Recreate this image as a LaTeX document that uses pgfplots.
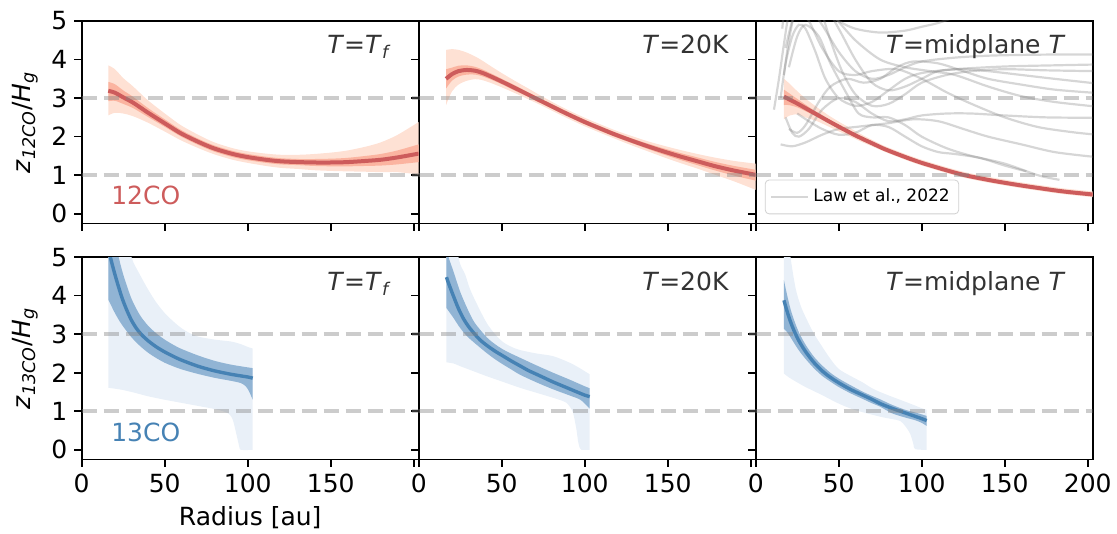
\documentclass[border=0pt]{standalone}
\usepackage{fontspec}
\setmainfont{DejaVu Sans}
\usepackage{pgfplots}
\pgfplotsset{compat=1.18}
\usepgfplotslibrary{groupplots,fillbetween}
\definecolor{redline}{RGB}{205,92,92}
\definecolor{redin}{RGB}{251,180,160}
\definecolor{redout}{RGB}{254,225,212}
\definecolor{blueline}{RGB}{70,130,180}
\definecolor{bluein}{RGB}{145,180,212}
\definecolor{blueout}{RGB}{233,240,248}
\definecolor{txt}{RGB}{51,51,51}
\newcommand\fs{\fontsize{12.5}{15}\selectfont}
\pgfplotsset{
  hline/.style={draw=gray, opacity=0.4, line width=2pt, dash pattern=on 7.6pt off 3.4pt, forget plot},
  edge/.style={draw=none, smooth, forget plot},
  law/.style={draw=gray, opacity=0.32, line width=1.1pt, smooth},
}
\begin{document}
\begin{tikzpicture}
\begin{groupplot}[
  group style={group size=3 by 2, horizontal sep=0pt, vertical sep=16.85pt},
  scale only axis, width=168.5pt, height=101.2pt,
  xmin=0, xmax=203, ymin=-0.25, ymax=5,
  xtick={0,50,100,150,200}, ytick={0,1,2,3,4,5},
  tick align=outside, tick pos=left,
  major tick length=3.65pt,
  every tick/.style={black, line width=0.83pt},
  axis line style={line width=0.83pt},
  /pgf/number format/assume math mode=true,
  tick label style={font=\fs},
  label style={font=\fs},
]
%% ---------------- 12CO, T=T_f
\nextgroupplot[xticklabels={}, ylabel={\textit{z}\textsubscript{\textit{12CO}}/\textit{H}\textsubscript{\textit{g}}}]
\coordinate (TL) at (rel axis cs:0,1);
\addplot[edge, name path=ou1] coordinates {(16,3.85)(20,3.75)(25,3.52)(31,3.30)(40,2.94)(51,2.57)(60,2.29)(71,2.03)(80,1.85)(91,1.70)(100,1.62)(111,1.56)(120,1.53)(131,1.53)(140,1.55)(151,1.59)(160,1.64)(171,1.74)(180,1.85)(190,2.04)(203,2.38)};
\addplot[edge, name path=ol1] coordinates {(16,2.55)(20,2.62)(25,2.60)(31,2.53)(40,2.36)(51,2.11)(60,1.90)(71,1.69)(80,1.54)(91,1.40)(100,1.32)(111,1.24)(120,1.19)(131,1.16)(140,1.13)(151,1.11)(160,1.10)(171,1.09)(180,1.08)(190,1.08)(203,1.02)};
\addplot[redout, forget plot] fill between[of=ou1 and ol1];
\addplot[edge, name path=iu1] coordinates {(16,3.42)(20,3.36)(25,3.20)(31,3.03)(40,2.74)(51,2.42)(60,2.17)(71,1.93)(80,1.77)(91,1.63)(100,1.55)(111,1.48)(120,1.44)(131,1.42)(140,1.42)(151,1.43)(160,1.45)(171,1.50)(180,1.55)(190,1.64)(203,1.80)};
\addplot[edge, name path=il1] coordinates {(16,2.92)(20,2.93)(25,2.85)(31,2.74)(40,2.51)(51,2.23)(60,2.00)(71,1.77)(80,1.61)(91,1.47)(100,1.39)(111,1.32)(120,1.28)(131,1.26)(140,1.24)(151,1.23)(160,1.23)(171,1.24)(180,1.25)(190,1.28)(203,1.34)};
\addplot[redin, forget plot] fill between[of=iu1 and il1];
\addplot[redline, line width=2pt, smooth] coordinates {(16,3.19)(20,3.14)(25,3.02)(31,2.88)(40,2.62)(51,2.32)(60,2.08)(71,1.85)(80,1.69)(91,1.55)(100,1.47)(111,1.40)(120,1.36)(131,1.34)(140,1.33)(151,1.33)(160,1.34)(171,1.37)(180,1.40)(190,1.46)(203,1.56)};
\addplot[hline] coordinates {(0,1)(203,1)};
\addplot[hline] coordinates {(0,3)(203,3)};
\node[anchor=base east, font=\fs, text=txt] at (rel axis cs:0.94,0.84) {\textit{T}=\textit{T}\textsubscript{\textit{f}}};
\node[anchor=base west, font=\fs, text=redline] at (rel axis cs:0.067,0.094) {12CO};
%% ---------------- 12CO, T=20K
\nextgroupplot[xticklabels={}, yticklabels={}]
\addplot[edge, name path=ou2] coordinates {(16.5,4.25)(20,4.27)(24,4.25)(29,4.18)(34,4.08)(38,3.98)(43,3.84)(50,3.65)(59,3.42)(66,3.25)(72,3.10)(80,2.91)(88,2.73)(100,2.49)(110,2.31)(118,2.17)(128,2.02)(138,1.88)(148,1.76)(158,1.65)(168,1.55)(178,1.46)(190,1.37)(203,1.30)};
\addplot[edge, name path=ol2] coordinates {(16.5,2.82)(20,3.17)(24,3.35)(29,3.45)(34,3.49)(38,3.47)(43,3.40)(50,3.28)(59,3.11)(66,2.97)(72,2.85)(80,2.68)(88,2.51)(100,2.27)(110,2.09)(118,1.95)(128,1.78)(138,1.62)(148,1.46)(158,1.31)(168,1.17)(178,1.02)(190,0.84)(203,0.62)};
\addplot[redout, forget plot] fill between[of=ou2 and ol2];
\addplot[edge, name path=iu2] coordinates {(16.5,3.75)(20,3.79)(24,3.84)(29,3.85)(34,3.81)(38,3.75)(43,3.65)(50,3.50)(59,3.31)(66,3.15)(72,3.02)(80,2.85)(88,2.68)(100,2.44)(110,2.26)(118,2.12)(128,1.96)(138,1.82)(148,1.69)(158,1.57)(168,1.46)(178,1.35)(190,1.24)(203,1.14)};
\addplot[edge, name path=il2] coordinates {(16.5,3.25)(20,3.45)(24,3.56)(29,3.61)(34,3.61)(38,3.57)(43,3.49)(50,3.36)(59,3.17)(66,3.03)(72,2.90)(80,2.73)(88,2.56)(100,2.32)(110,2.14)(118,2.00)(128,1.84)(138,1.68)(148,1.53)(158,1.39)(168,1.26)(178,1.13)(190,0.99)(203,0.86)};
\addplot[redin, forget plot] fill between[of=iu2 and il2];
\addplot[redline, line width=2pt, smooth] coordinates {(16.5,3.50)(20,3.62)(24,3.70)(29,3.73)(34,3.71)(38,3.66)(43,3.57)(50,3.43)(59,3.24)(66,3.09)(72,2.96)(80,2.79)(88,2.62)(100,2.38)(110,2.20)(118,2.06)(128,1.90)(138,1.75)(148,1.61)(158,1.48)(168,1.36)(178,1.24)(190,1.12)(203,1.01)};
\addplot[hline] coordinates {(0,1)(203,1)};
\addplot[hline] coordinates {(0,3)(203,3)};
\node[anchor=base east, font=\fs, text=txt] at (rel axis cs:0.94,0.84) {\textit{T}=20K};
%% ---------------- 12CO, T=midplane T
\nextgroupplot[xticklabels={}, yticklabels={},
  legend style={at={(0.027,0.045)}, anchor=south west, font=\fontsize{8.5}{10}\selectfont,
    draw=black!18, rounded corners=2pt, fill=white, fill opacity=0.8, text opacity=1,
    inner sep=2.5pt},
  legend image code/.code={\draw[#1] (0cm,0cm) -- (0.65cm,0cm);}]
\addplot[law] coordinates {(11,2.7)(14,3.5)(17,4.4)(20,5.2)(24,5.6)(30,5.5)(40,4.9)(50,4.2)(60,3.7)(70,3.5)(80,3.6)(90,3.8)(100,3.95)(120,4.05)(140,4.1)(160,4.12)(180,4.13)(203,4.13)};
\addlegendentry{Law et al., 2022}
\addplot[law, forget plot] coordinates {(15,3.0)(18,3.9)(22,4.6)(26,4.9)(30,4.8)(36,4.2)(42,3.5)(50,3.0)(60,2.8)(70,2.9)(80,3.2)(90,3.5)(100,3.65)(120,3.75)(150,3.82)(180,3.85)(203,3.87)};
\addplot[law, forget plot] coordinates {(17,3.6)(20,4.5)(24,5.3)(30,5.8)(38,5.4)(45,4.5)(52,3.7)(60,3.1)(70,2.8)(80,2.85)(90,3.1)(100,3.4)(115,3.6)(130,3.7)(150,3.75)(175,3.72)(203,3.70)};
\addplot[law, forget plot] coordinates {(18,4.3)(22,5.0)(28,5.6)(40,5.5)(50,4.8)(60,4.0)(70,3.4)(80,3.2)(90,3.3)(100,3.5)(110,3.7)(125,3.75)(140,3.7)(160,3.6)(180,3.5)(203,3.39)};
\addplot[law, forget plot] coordinates {(20,2.2)(25,2.1)(30,2.3)(38,2.9)(45,3.3)(55,3.5)(65,3.4)(75,3.5)(85,3.8)(95,3.95)(110,3.9)(125,3.7)(140,3.5)(160,3.35)(180,3.22)(203,3.14)};
\addplot[law, forget plot] coordinates {(16,4.8)(19,5.5)(30,5.6)(45,5.2)(60,4.5)(75,4.0)(90,3.8)(105,3.7)(120,3.6)(140,3.3)(160,3.05)(180,2.9)(203,2.79)};
\addplot[law, forget plot] coordinates {(18,2.5)(22,2.1)(26,2.0)(32,2.2)(40,2.7)(50,3.0)(60,2.9)(70,2.6)(80,2.4)(90,2.45)(100,2.55)(115,2.6)(130,2.6)(150,2.55)(175,2.5)(203,2.49)};
\addplot[law, forget plot] coordinates {(25,5.3)(32,5.0)(40,4.3)(50,3.7)(60,3.6)(70,3.7)(85,3.75)(100,3.5)(115,3.15)(130,2.85)(150,2.5)(170,2.25)(190,2.12)(203,2.06)};
\addplot[law, forget plot] coordinates {(15,1.8)(22,1.75)(30,1.85)(40,2.05)(50,2.2)(60,2.25)(70,2.3)(80,2.35)(95,2.45)(110,2.4)(125,2.2)(140,2.0)(160,1.8)(180,1.6)(203,1.48)};
\addplot[law, forget plot] coordinates {(20,3.8)(25,4.6)(30,4.9)(38,4.6)(45,3.9)(55,3.1)(62,2.6)(70,2.5)(80,2.5)(90,2.3)(100,2.0)(115,1.7)(130,1.5)(150,1.3)(170,1.0)(183,0.88)};
\addplot[law, forget plot] coordinates {(25,2.6)(32,2.4)(40,2.2)(50,2.05)(60,2.1)(70,2.3)(80,2.25)(90,2.0)(100,1.75)(110,1.6)(120,1.55)(135,1.45)(150,1.25)(163,1.1)};
\addplot[law, forget plot] coordinates {(40,5.3)(50,5.0)(60,4.8)(75,4.7)(90,4.75)(100,4.85)(110,4.95)(120,5.1)};
\addplot[edge, name path=ou3] coordinates {(17,3.50)(20,3.39)(25,3.18)(30,2.99)(37,2.76)(44,2.55)(50,2.39)(57,2.22)(64,2.05)(70,1.92)(77,1.77)(84,1.65)(92,1.52)(100,1.40)(110,1.27)(118,1.17)(126,1.08)(135,1.00)(145,0.92)(159,0.82)(170,0.75)(185,0.66)(203,0.58)};
\addplot[edge, name path=ol3] coordinates {(17,2.45)(20,2.54)(25,2.58)(30,2.50)(37,2.40)(44,2.26)(50,2.14)(57,2.00)(64,1.86)(70,1.75)(77,1.62)(84,1.50)(92,1.37)(100,1.25)(110,1.12)(118,1.02)(126,0.93)(135,0.85)(145,0.77)(159,0.67)(170,0.60)(185,0.51)(203,0.43)};
\addplot[redout, forget plot] fill between[of=ou3 and ol3];
\addplot[edge, name path=iu3] coordinates {(17,3.22)(20,3.13)(25,2.98)(30,2.83)(37,2.63)(44,2.45)(50,2.30)(57,2.14)(64,1.99)(70,1.87)(77,1.73)(84,1.61)(92,1.48)(100,1.36)(110,1.23)(118,1.13)(126,1.04)(135,0.96)(145,0.88)(159,0.78)(170,0.71)(185,0.62)(203,0.54)};
\addplot[edge, name path=il3] coordinates {(17,2.82)(20,2.82)(25,2.76)(30,2.66)(37,2.51)(44,2.35)(50,2.22)(57,2.06)(64,1.91)(70,1.79)(77,1.65)(84,1.53)(92,1.40)(100,1.28)(110,1.15)(118,1.05)(126,0.96)(135,0.88)(145,0.80)(159,0.70)(170,0.63)(185,0.54)(203,0.46)};
\addplot[redin, forget plot] fill between[of=iu3 and il3];
\addplot[redline, line width=2pt, smooth, forget plot] coordinates {(17,3.04)(20,2.97)(25,2.86)(30,2.74)(37,2.57)(44,2.40)(50,2.26)(57,2.10)(64,1.95)(70,1.83)(77,1.69)(84,1.57)(92,1.44)(100,1.32)(110,1.19)(118,1.09)(126,1.00)(135,0.92)(145,0.84)(159,0.74)(170,0.67)(185,0.58)(203,0.50)};
\addplot[hline] coordinates {(0,1)(203,1)};
\addplot[hline] coordinates {(0,3)(203,3)};
\node[anchor=base east, font=\fs, text=txt] at (rel axis cs:0.94,0.84) {\textit{T}=midplane \textit{T}};
%% ---------------- 13CO, T=T_f
\nextgroupplot[xticklabels={0,50,100,150,{}}, xlabel={Radius [au]},
  ylabel={\textit{z}\textsubscript{\textit{13CO}}/\textit{H}\textsubscript{\textit{g}}}]
\addplot[edge, name path=ou4] coordinates {(16,9)(22,7)(27,5.8)(30,5.0)(35,4.55)(40,4.16)(45,3.82)(50,3.55)(55,3.34)(60,3.16)(65,3.03)(70,2.94)(80,2.86)(90,2.81)(96,2.74)(100,2.67)(103,2.63)};
\addplot[edge, name path=ol4] coordinates {(16,1.61)(24,1.56)(32,1.48)(40,1.39)(50,1.30)(60,1.22)(70,1.14)(80,1.06)(86,0.99)(89,0.92)(91,0.78)(93,0.44)(95,0.07)(96,0.0)(103,0.0)};
\addplot[blueout, forget plot] fill between[of=ou4 and ol4];
\addplot[edge, name path=iu4] coordinates {(16,6.5)(20,5.45)(22,5.05)(25,4.55)(30,3.92)(35,3.50)(40,3.22)(45,3.02)(50,2.86)(55,2.73)(60,2.62)(70,2.45)(80,2.31)(90,2.21)(100,2.14)(103,2.12)};
\addplot[edge, name path=il4] coordinates {(16,3.90)(20,3.55)(24,3.26)(30,2.92)(35,2.70)(40,2.52)(45,2.38)(50,2.26)(55,2.17)(60,2.09)(70,1.97)(80,1.87)(90,1.79)(96,1.73)(99,1.64)(101,1.50)(103,1.30)};
\addplot[bluein, forget plot] fill between[of=iu4 and il4];
\addplot[blueline, line width=1.7pt, smooth] coordinates {(16,5.35)(17,5.05)(20,4.55)(24,3.98)(27,3.64)(30,3.36)(33,3.15)(36,2.99)(40,2.83)(45,2.67)(50,2.54)(55,2.43)(60,2.33)(70,2.17)(80,2.05)(90,1.96)(100,1.89)(103,1.86)};
\addplot[hline] coordinates {(0,1)(203,1)};
\addplot[hline] coordinates {(0,3)(203,3)};
\node[anchor=base east, font=\fs, text=txt] at (rel axis cs:0.94,0.835) {\textit{T}=\textit{T}\textsubscript{\textit{f}}};
\node[anchor=base west, font=\fs, text=blueline] at (rel axis cs:0.067,0.087) {13CO};
%% ---------------- 13CO, T=20K
\nextgroupplot[xticklabels={0,50,100,150,{}}, yticklabels={}]
\addplot[edge, name path=ou5] coordinates {(16.7,8)(20,6.6)(24,5.0)(28,4.55)(31,4.16)(36,3.70)(41,3.29)(46,3.00)(51,2.79)(56,2.67)(61,2.59)(71,2.50)(81,2.43)(91,2.26)(97,2.12)(103,1.96)};
\addplot[edge, name path=ol5] coordinates {(16.7,2.27)(21,2.24)(25,2.17)(33,2.04)(41,1.91)(51,1.76)(61,1.61)(71,1.48)(81,1.35)(86,1.28)(89,1.22)(91,1.12)(93,0.96)(95,0.53)(96,0.22)(97,0.05)(98,0.0)(103,0.0)};
\addplot[blueout, forget plot] fill between[of=ou5 and ol5];
\addplot[edge, name path=iu5] coordinates {(16.7,5.3)(18,5.0)(21,4.62)(25,4.10)(30,3.60)(34,3.28)(41,2.92)(46,2.74)(51,2.60)(56,2.49)(61,2.39)(71,2.19)(81,2.00)(91,1.82)(100,1.65)(103,1.60)};
\addplot[edge, name path=il5] coordinates {(16.7,3.68)(21,3.42)(24,3.22)(27,3.05)(30,2.91)(34,2.76)(41,2.51)(46,2.35)(51,2.21)(56,2.08)(61,1.95)(71,1.75)(81,1.57)(91,1.41)(97,1.31)(100,1.20)(103,1.07)};
\addplot[bluein, forget plot] fill between[of=iu5 and il5];
\addplot[blueline, line width=1.7pt, smooth] coordinates {(16.7,4.48)(18,4.32)(21,3.98)(24,3.66)(27,3.40)(30,3.20)(34,2.99)(37,2.85)(41,2.71)(46,2.56)(51,2.43)(56,2.30)(61,2.18)(66,2.06)(71,1.96)(76,1.86)(81,1.76)(86,1.67)(91,1.58)(96,1.49)(100,1.42)(103,1.38)};
\addplot[hline] coordinates {(0,1)(203,1)};
\addplot[hline] coordinates {(0,3)(203,3)};
\node[anchor=base east, font=\fs, text=txt] at (rel axis cs:0.94,0.835) {\textit{T}=20K};
%% ---------------- 13CO, T=midplane T
\nextgroupplot[yticklabels={}]
\addplot[edge, name path=ou6] coordinates {(17,7.0)(20,5.6)(21,5.0)(24,4.2)(27,3.75)(30,3.45)(35,3.02)(40,2.68)(45,2.36)(50,2.10)(57,1.92)(64,1.76)(70,1.60)(75,1.50)(82,1.38)(90,1.25)(96,1.15)(100,1.08)(103,1.04)};
\addplot[edge, name path=ol6] coordinates {(17,1.98)(20,1.88)(25,1.75)(30,1.63)(40,1.42)(50,1.20)(60,1.03)(75,0.86)(82,0.80)(87,0.75)(90,0.62)(93,0.42)(95,0.15)(96,0.02)(103,0.0)};
\addplot[blueout, forget plot] fill between[of=ou6 and ol6];
\addplot[edge, name path=iu6] coordinates {(17,4.40)(19,4.0)(21,3.65)(23,3.38)(26,3.05)(30,2.73)(35,2.42)(40,2.19)(45,2.00)(50,1.85)(57,1.68)(64,1.52)(70,1.40)(75,1.31)(82,1.17)(90,1.04)(96,0.97)(100,0.92)(103,0.88)};
\addplot[edge, name path=il6] coordinates {(17,3.14)(19,3.05)(21,2.92)(23,2.78)(26,2.58)(30,2.36)(35,2.12)(40,1.92)(45,1.77)(50,1.63)(57,1.47)(64,1.33)(70,1.21)(75,1.12)(82,0.95)(90,0.84)(96,0.77)(100,0.70)(103,0.62)};
\addplot[bluein, forget plot] fill between[of=iu6 and il6];
\addplot[blueline, line width=1.7pt, smooth] coordinates {(17,3.88)(19,3.58)(21,3.32)(23,3.10)(26,2.83)(30,2.55)(35,2.27)(40,2.05)(45,1.88)(50,1.74)(57,1.57)(64,1.43)(70,1.31)(75,1.20)(82,1.08)(90,0.96)(96,0.87)(100,0.81)(103,0.76)};
\addplot[hline] coordinates {(0,1)(203,1)};
\addplot[hline] coordinates {(0,3)(203,3)};
\node[anchor=base east, font=\fs, text=txt] at (rel axis cs:0.94,0.835) {\textit{T}=midplane \textit{T}};
\end{groupplot}
\pgfresetboundingbox
\path[use as bounding box] ([shift={(-40.85pt,10.5pt)}]TL) rectangle ([shift={(517.65pt,-256.5pt)}]TL);
\end{tikzpicture}
\end{document}
